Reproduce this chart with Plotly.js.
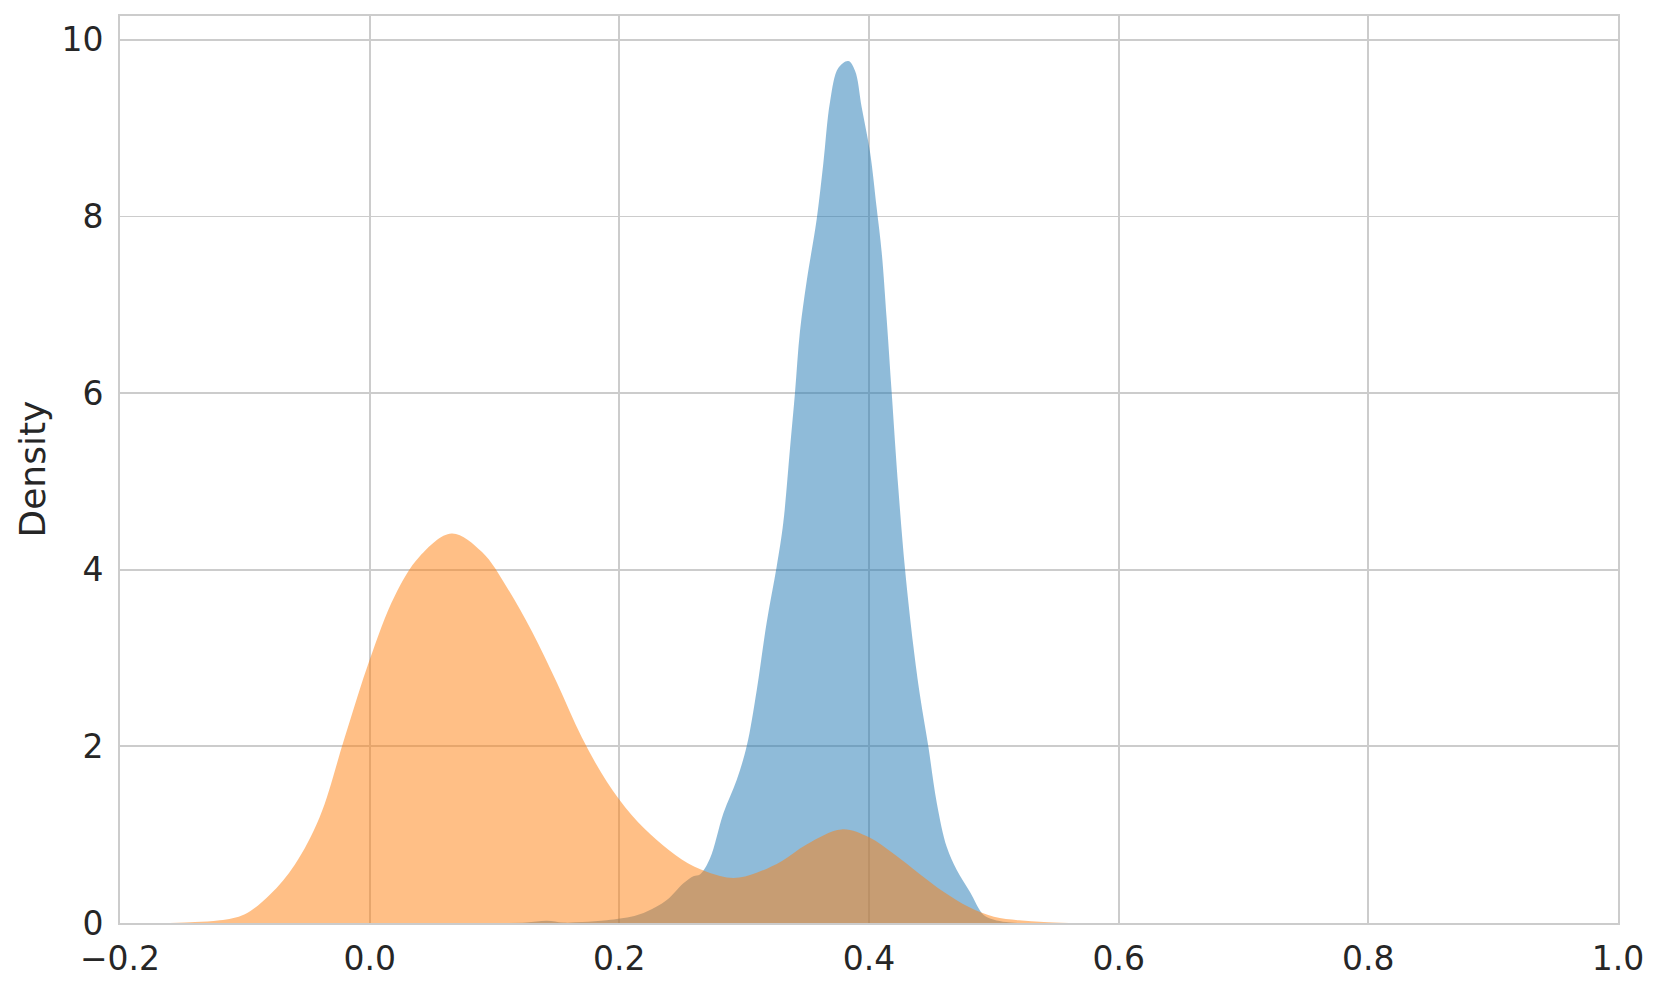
<!DOCTYPE html>
<html>
<head>
<meta charset="utf-8">
<script src="https://cdn.plot.ly/plotly-3.0.1.min.js"></script>
<style>html,body{margin:0;padding:0;background:#fff;}#chart{width:1661px;height:988px;}</style>
</head>
<body>
<div id="chart"></div>
<script>
// Series A (blue) density curve
const blueX = [0.10, 0.125, 0.142, 0.155, 0.17, 0.19, 0.2006, 0.212, 0.222, 0.238, 0.2513, 0.2593, 0.2646, 0.2726, 0.2833, 0.294, 0.302, 0.310, 0.318, 0.326, 0.3314, 0.3367, 0.3407, 0.3447, 0.3501, 0.3581, 0.3634, 0.3688, 0.3754, 0.3834, 0.3888, 0.3941, 0.4008, 0.4062, 0.4102, 0.4142, 0.4182, 0.4235, 0.4289, 0.4355, 0.4409, 0.4475, 0.4543, 0.4623, 0.4703, 0.4809, 0.4916, 0.4996, 0.51, 0.52];
const blueY = [0, 0.005, 0.025, 0.005, 0.01, 0.03, 0.05, 0.08, 0.13, 0.26, 0.45, 0.53, 0.55, 0.73, 1.24, 1.62, 2.0, 2.63, 3.40, 4.03, 4.54, 5.37, 6.0, 6.70, 7.27, 7.97, 8.60, 9.30, 9.68, 9.76, 9.65, 9.24, 8.73, 8.09, 7.59, 6.83, 6.0, 4.92, 4.0, 3.14, 2.57, 2.0, 1.36, 0.86, 0.60, 0.35, 0.094, 0.04, 0.01, 0];
// Series B (orange) density curve
const orangeX = [-0.16, -0.14, -0.12, -0.10, -0.08, -0.06, -0.04, -0.02, 0.0, 0.02, 0.04, 0.0657, 0.09, 0.11, 0.13, 0.15, 0.17, 0.19, 0.21, 0.23, 0.25, 0.27, 0.2913, 0.31, 0.33, 0.35, 0.378, 0.40, 0.42, 0.44, 0.46, 0.48, 0.50, 0.52, 0.54, 0.56];
const orangeY = [0, 0.01, 0.03, 0.10, 0.32, 0.66, 1.2, 2.1, 2.98, 3.7, 4.15, 4.41, 4.2, 3.8, 3.3, 2.72, 2.1, 1.6, 1.22, 0.94, 0.72, 0.58, 0.51, 0.57, 0.70, 0.89, 1.06, 0.97, 0.78, 0.56, 0.35, 0.18, 0.07, 0.03, 0.01, 0];
// Axis ticks
const xTickVals = [-0.2, 0.0, 0.2, 0.4, 0.6, 0.8, 1.0];
const xTickText = ["\u22120.2", "0.0", "0.2", "0.4", "0.6", "0.8", "1.0"];
const yTickVals = [0, 2, 4, 6, 8, 10];
const yTickText = ["0", "2", "4", "6", "8", "10"];
const yTitle = 'Density';

const traces = [
  {x: blueX, y: blueY, type: 'scatter', mode: 'lines', fill: 'tozeroy',
   line: {width: 0, shape: 'spline', smoothing: 1, color: 'rgba(31,119,180,0)'},
   fillcolor: 'rgba(31,119,180,0.5)', hoverinfo: 'x+y'},
  {x: orangeX, y: orangeY, type: 'scatter', mode: 'lines', fill: 'tozeroy',
   line: {width: 0, shape: 'spline', smoothing: 1, color: 'rgba(255,127,14,0)'},
   fillcolor: 'rgba(255,127,14,0.5)', hoverinfo: 'x+y'}
];

const fontFam = 'DejaVu Sans, sans-serif';
const layout = {
  width: 1661, height: 988,
  margin: {l: 120, r: 43, t: 16, b: 65, pad: 0},
  paper_bgcolor: '#ffffff', plot_bgcolor: '#ffffff',
  showlegend: false,
  font: {family: fontFam, color: '#262626', size: 33},
  xaxis: {
    range: [-0.2, 1.0], tickvals: xTickVals, ticktext: xTickText,
    showgrid: true, gridcolor: '#cccccc', gridwidth: 1.8,
    zeroline: false, showline: true, mirror: true, linecolor: '#cccccc', linewidth: 1.8,
    ticks: '', ticklabelstandoff: 6,
    tickfont: {family: fontFam, size: 33, color: '#262626'}
  },
  yaxis: {
    range: [0, 10.27], tickvals: yTickVals, ticktext: yTickText,
    showgrid: true, gridcolor: '#cccccc', gridwidth: 1.8,
    zeroline: false, showline: true, mirror: true, linecolor: '#cccccc', linewidth: 1.8,
    ticks: '', ticklabelstandoff: 8,
    tickfont: {family: fontFam, size: 33, color: '#262626'}
  },
  annotations: [{
    text: yTitle, textangle: -90, showarrow: false,
    xref: 'paper', yref: 'paper', x: -88 / 1498, y: 0.5,
    xanchor: 'center', yanchor: 'middle',
    font: {family: fontFam, size: 36, color: '#262626'}
  }]
};

Plotly.newPlot('chart', traces, layout, {displayModeBar: false, staticPlot: true});
</script>
</body>
</html>
